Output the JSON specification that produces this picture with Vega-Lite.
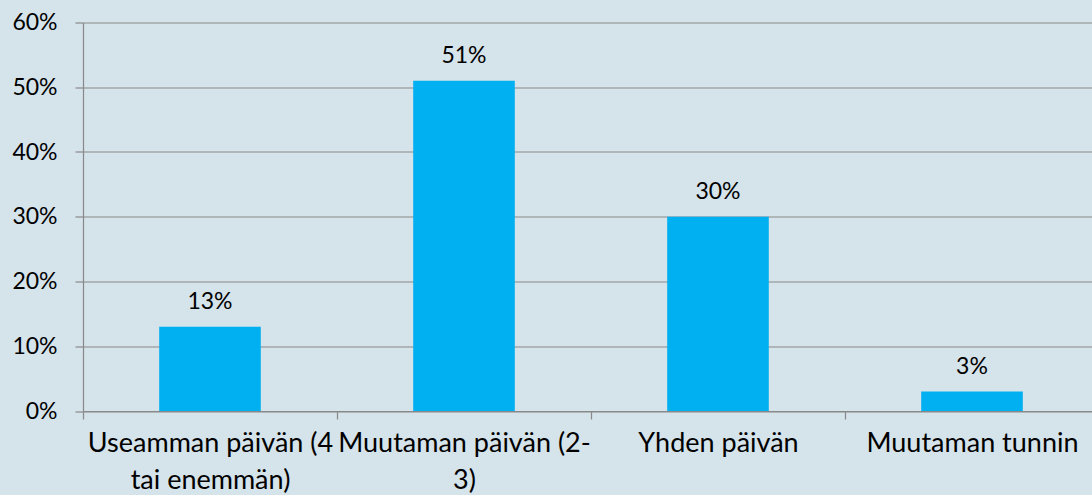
{
  "$schema": "https://vega.github.io/schema/vega-lite/v6.json",
  "width": 1009,
  "height": 388.5,
  "autosize": {"type": "none"},
  "padding": {"left": 83, "top": 22.5, "right": 0, "bottom": 84},
  "background": "#d5e3ea",
  "config": {
    "view": {"stroke": null},
    "font": "Lato",
    "axis": {"labelColor": "#000000", "labelFont": "Lato", "title": null, "domainColor": "#898989", "tickColor": "#898989", "gridColor": "#898989", "gridOpacity": 1, "domainWidth": 1.2, "tickWidth": 1.2, "gridWidth": 1.2}
  },
  "data": {
    "values": [
      {"category": "Useamman päivän (4 tai enemmän)", "value": 0.13},
      {"category": "Muutaman päivän (2-3)", "value": 0.51},
      {"category": "Yhden päivän", "value": 0.30},
      {"category": "Muutaman tunnin", "value": 0.03}
    ]
  },
  "encoding": {
    "x": {
      "field": "category",
      "type": "nominal",
      "sort": null,
      "scale": {"paddingInner": 0, "paddingOuter": 0, "range": [0, 1016]},
      "axis": {
        "labelAngle": 0,
        "labelFontSize": 27,
        "labelLineHeight": 37,
        "labelPadding": 11,
        "tickSize": 8,
        "tickBand": "extent",
        "labelOverlap": false,
        "labelBound": false,
        "labelLimit": 0,
        "grid": false,
        "labelExpr": "datum.value == 'Useamman päivän (4 tai enemmän)' ? ['Useamman päivän (4', 'tai enemmän)'] : datum.value == 'Muutaman päivän (2-3)' ? ['Muutaman päivän (2-', '3)'] : datum.value"
      }
    },
    "y": {
      "field": "value",
      "type": "quantitative",
      "scale": {"domain": [0, 0.6], "nice": false},
      "axis": {
        "values": [0, 0.1, 0.2, 0.3, 0.4, 0.5, 0.6],
        "format": ".0%",
        "labelFontSize": 23,
        "labelPadding": 18,
        "tickSize": 8,
        "grid": true
      }
    }
  },
  "layer": [
    {"mark": {"type": "bar", "width": {"band": 0.4}, "color": "#00b0f0"}},
    {
      "mark": {"type": "text", "baseline": "alphabetic", "dy": -18, "fontSize": 23, "color": "#000000", "font": "Lato"},
      "encoding": {"text": {"field": "value", "type": "quantitative", "format": ".0%"}}
    }
  ]
}
